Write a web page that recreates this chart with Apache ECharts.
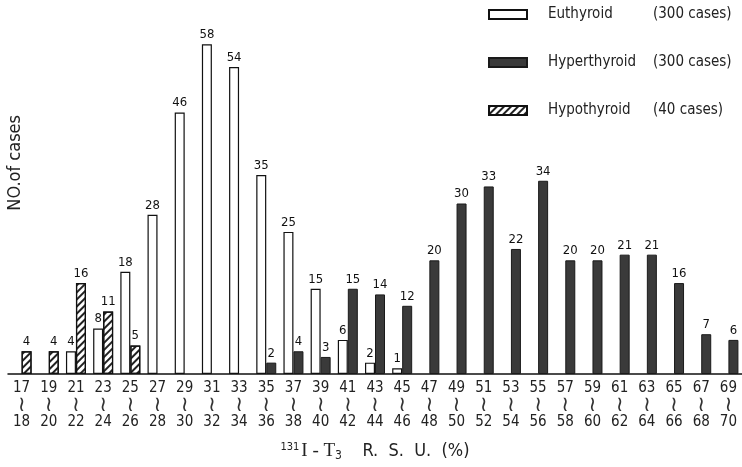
<!DOCTYPE html>
<html>
<head>
<meta charset="utf-8">
<script src="https://cdn.jsdelivr.net/npm/echarts@6/dist/echarts.min.js"></script>
<style>
  html, body { margin: 0; padding: 0; background: #fff; }
  #main { width: 742px; height: 467px; }
</style>
</head>
<body>
<div id="main"></div>
<script>
var FONT = '"Liberation Sans Narrow", "DejaVu Sans Condensed", "Roboto", sans-serif';

// 131I-T3 R.S.U. (%) ranges
var rangeStart = [17, 19, 21, 23, 25, 27, 29, 31, 33, 35, 37, 39, 41, 43, 45, 47, 49, 51, 53, 55, 57, 59, 61, 63, 65, 67, 69];
var rangeEnd   = [18, 20, 22, 24, 26, 28, 30, 32, 34, 36, 38, 40, 42, 44, 46, 48, 50, 52, 54, 56, 58, 60, 62, 64, 66, 68, 70];

var euthyroid    = [null, null, 4, 8, 18, 28, 46, 58, 54, 35, 25, 15, 6, 2, 1, null, null, null, null, null, null, null, null, null, null, null, null];
var hyperthyroid = [null, null, null, null, null, null, null, null, null, 2, 4, 3, 15, 14, 12, 20, 30, 33, 22, 34, 20, 20, 21, 21, 16, 7, 6];
var hypothyroid  = [4, 4, 16, 11, 5, null, null, null, null, null, null, null, null, null, null, null, null, null, null, null, null, null, null, null, null, null, null];

var seriesNames = ['Euthyroid', 'Hyperthyroid', 'Hypothyroid'];
var caseCounts = ['(300 cases)', '(300 cases)', '(40 cases)'];

var categories = rangeStart.map(function (s, i) {
    return '{n|' + s + '}\n{t|≀}\n{n|' + rangeEnd[i] + '}';
});

var chart = echarts.init(document.getElementById('main'));

var barLabel = {
    show: true,
    position: 'top',
    distance: 3,
    color: '#111',
    fontSize: 13,
    fontFamily: FONT
};

chart.setOption({
    backgroundColor: '#fff',
    animation: false,
    grid: { left: 8, right: 0, top: 33, bottom: 91 },
    legend: {
        orient: 'vertical',
        left: 483,
        top: 2,
        icon: 'rect',
        itemWidth: 38,
        itemHeight: 9,
        itemGap: 33,
        data: seriesNames,
        formatter: function (name) {
            var i = seriesNames.indexOf(name);
            return '{n|' + name + '}{c|' + caseCounts[i] + '}';
        },
        textStyle: {
            color: '#222',
            fontFamily: FONT,
            fontSize: 15,
            padding: [0, 0, 0, 16],
            rich: {
                n: { fontFamily: FONT, fontSize: 15, color: '#222', width: 105 },
                c: { fontFamily: FONT, fontSize: 15, color: '#222' }
            }
        }
    },
    graphic: [{
        type: 'text',
        left: 6,
        top: 115,
        rotation: Math.PI / 2,
        style: {
            text: 'NO.of cases',
            font: '18px ' + FONT,
            fill: '#222'
        }
    }],
    xAxis: {
        type: 'category',
        data: categories,
        name: '{s|131}{m|I - T}{b|3}{r|    R.  S.  U.  (%)}',
        nameLocation: 'middle',
        nameGap: 66,
        nameTextStyle: {
            rich: {
                s: { fontSize: 11, fontFamily: FONT, color: '#222', padding: [0, 2, 8, 0] },
                m: { fontSize: 19, fontFamily: 'Liberation Serif, serif', color: '#222' },
                b: { fontSize: 12, fontFamily: FONT, color: '#222', padding: [10, 0, 0, 0] },
                r: { fontSize: 18, fontFamily: FONT, color: '#222' }
            }
        },
        axisLine: { lineStyle: { color: '#111', width: 1.5 } },
        axisTick: { show: false },
        axisLabel: {
            interval: 0,
            color: '#222',
            margin: 6,
            rich: {
                n: { fontSize: 15, fontFamily: FONT, color: '#222', lineHeight: 17 },
                t: { fontSize: 21, fontFamily: 'DejaVu Sans, sans-serif', color: '#333', lineHeight: 17 }
            }
        }
    },
    yAxis: {
        type: 'value',
        min: 0,
        max: 60,
        show: false,
        splitLine: { show: false }
    },
    series: [
        {
            name: 'Euthyroid',
            type: 'bar',
            barWidth: 10,
            barGap: '0%',
            data: euthyroid,
            itemStyle: { color: '#fff', borderColor: '#111', borderWidth: 1.2 },
            label: barLabel
        },
        {
            name: 'Hyperthyroid',
            type: 'bar',
            stack: 'b',
            barWidth: 10,
            data: hyperthyroid,
            itemStyle: { color: '#3a3a3a', borderColor: '#1a1a1a', borderWidth: 1 },
            label: barLabel
        },
        {
            name: 'Hypothyroid',
            type: 'bar',
            stack: 'b',
            barWidth: 10,
            data: hypothyroid,
            itemStyle: {
                color: '#fff',
                borderColor: '#111',
                borderWidth: 1.2,
                decal: {
                    symbol: 'rect',
                    symbolSize: 1,
                    color: '#222',
                    dashArrayX: [1, 0],
                    dashArrayY: [1.5, 3],
                    rotation: -Math.PI / 4
                }
            },
            label: barLabel
        }
    ]
});
</script>
</body>
</html>
